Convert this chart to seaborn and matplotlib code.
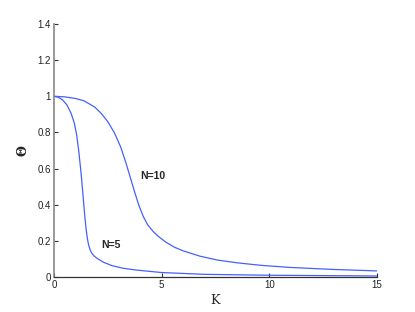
import matplotlib
matplotlib.use('Agg')
import matplotlib.pyplot as plt
import seaborn as sns
import pandas as pd

# ── Data ──────────────────────────────────────────────────────────────────────
kappa_n5 = [0, 0.2, 0.4, 0.6, 0.8, 0.95, 1.05, 1.15, 1.22, 1.28, 1.33, 1.38,
            1.43, 1.49, 1.55, 1.61, 1.68, 1.77, 1.88, 2.0, 2.3, 2.7, 3.2, 3.8,
            5, 7, 10, 15]
theta_n5 = [1.0, 0.995, 0.98, 0.953, 0.905, 0.85, 0.79, 0.70, 0.62, 0.55,
            0.48, 0.41, 0.34, 0.27, 0.215, 0.178, 0.15, 0.13, 0.115, 0.104,
            0.082, 0.063, 0.049, 0.039, 0.025, 0.015, 0.01, 0.006]

kappa_n10 = [0, 0.5, 1.0, 1.4, 1.9, 2.2, 2.5, 2.8, 3.1, 3.35, 3.55, 3.75,
             3.95, 4.15, 4.35, 4.6, 4.85, 5.2, 5.6, 6.0, 6.8, 7.6, 8.5, 9.6,
             11, 13, 15]
theta_n10 = [1.0, 0.997, 0.988, 0.975, 0.94, 0.905, 0.86, 0.80, 0.72, 0.63,
             0.55, 0.47, 0.395, 0.335, 0.29, 0.253, 0.225, 0.193, 0.165,
             0.145, 0.115, 0.094, 0.079, 0.065, 0.053, 0.042, 0.034]

y_ticks = [0, 0.2, 0.4, 0.6, 0.8, 1.0, 1.2, 1.4]
x_ticks = [0, 5, 10, 15]

df = pd.concat([
    pd.DataFrame({'kappa': kappa_n5, 'theta': theta_n5, 'N': 'N=5'}),
    pd.DataFrame({'kappa': kappa_n10, 'theta': theta_n10, 'N': 'N=10'}),
])

# ── Plot ──────────────────────────────────────────────────────────────────────
sns.set_style('ticks')
plt.rcParams['font.family'] = ['Liberation Sans', 'DejaVu Sans']

fig = plt.figure(figsize=(4.15, 3.12), dpi=100)
ax = fig.add_axes([0.130, 0.112, 0.778, 0.811])

sns.lineplot(data=df, x='kappa', y='theta', units='N', estimator=None,
             color='#4460ff', lw=0.9, sort=False, legend=False, ax=ax)

ax.set_xlim(0, 15)
ax.set_ylim(0, 1.4)
ax.set_xticks(x_ticks)
ax.set_yticks(y_ticks)
ax.set_xticklabels([f'{v:g}' for v in x_ticks], fontsize=7)
ax.set_yticklabels([f'{v:g}' for v in y_ticks], fontsize=7)
ax.tick_params(direction='in', length=3, width=0.8, color='#333333',
               labelcolor='#222222', pad=2)

sns.despine(ax=ax)
ax.spines['left'].set_color('#888888')
ax.spines['left'].set_linewidth(1.2)
ax.spines['bottom'].set_color('#333333')
ax.spines['bottom'].set_linewidth(0.9)

ax.set_xlabel('Κ', family='DejaVu Serif', fontsize=9, labelpad=3)
ax.set_ylabel('Θ', family='DejaVu Serif', fontsize=9, fontweight='bold',
              labelpad=6)

ax.text(4.0, 0.557, 'N=10', fontsize=7.5, fontweight='bold', va='center')
ax.text(2.2, 0.18, 'N=5', fontsize=7.5, fontweight='bold', va='center')

fig.savefig('out.png', dpi=100)
